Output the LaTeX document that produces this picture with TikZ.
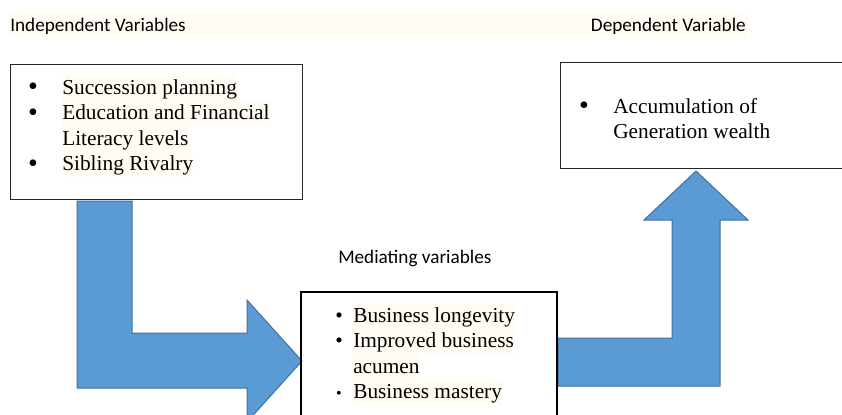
\documentclass[tikz,border=0pt]{standalone}
\usepackage{fontspec}
\setmainfont{Liberation Serif}
\newfontfamily\headfont{Carlito}
\usetikzlibrary{fit}
\definecolor{cream}{RGB}{255,252,244}
\definecolor{arrowblue}{RGB}{91,155,213}
\definecolor{arrowedge}{RGB}{65,113,156}

\begin{document}
\begin{tikzpicture}[
        x=0.75pt, y=-0.75pt,
        heading/.style={font=\headfont\fontsize{14.4}{17}\selectfont, anchor=base west, inner sep=0pt},
        listbox/.style={draw=black!85, line width=0.75pt, inner sep=0pt},
        item/.style={font=\fontsize{16}{19}\selectfont, anchor=base west, inner sep=0pt, text height=14pt, text depth=5pt},
        hlitem/.style={item, fill=cream},
        bullet/.style={font=\fontsize{16}{19}\selectfont, anchor=base, inner sep=0pt},
        bigbullet/.style={bullet, font=\fontsize{21}{19}\selectfont, yshift=-1.2pt},
        arrowblock/.style={fill=arrowblue, draw=arrowedge, line width=0.75pt, line join=miter}
    ]
    \useasboundingbox (0,0) rectangle (842,414);

    % heading band
    \fill[cream] (10,12) rectangle (748,37);
    \node[heading] (indep) at (10,31.5) {Independent Variables};
    \node[heading, anchor=base east] (dep) at (746,31.5) {Dependent Variable};
    \node[heading] (med) at (338,263) {Mediating variables};

    % block arrows
    \draw[arrowblock] (77,201) -- (132,201) -- (132,333) -- (247,333) -- (247,300)
        -- (302,361) -- (247,422) -- (247,388) -- (77,388) -- cycle;
    \draw[arrowblock] (558,386) -- (558,338) -- (672,338) -- (672,220) -- (644,220)
        -- (696,171) -- (748,220) -- (720,220) -- (720,386) -- cycle;

    % boxes
    \node[listbox, fit={(10,64) (302,199)}] (indepbox) {};
    \node[listbox, fit={(560,62) (850,168)}] (depbox) {};
    \node[listbox, line width=1.4pt, draw=black, fit={(301,292) (557,430)}] (medbox) {};

    % independent variables
    \foreach \n/\y in {1/94, 2/119.5, 4/170.5}
        \node[bigbullet] (ib\n) at (33,\y) {\textbullet};
    \foreach \n/\y/\txt in {1/94/Succession planning, 2/119.5/Education and Financial,
                            3/145/Literacy levels, 4/170.5/Sibling Rivalry}
        \node[hlitem] (iv\n) at (62,\y) {\txt};

    % dependent variable
    \node[bigbullet] (db1) at (584,113) {\textbullet};
    \node[item] (dv1) at (613,113) {Accumulation of};
    \node[item] (dv2) at (613,138) {Generation wealth};

    % mediating variables
    \node[bullet] (mb1) at (339,322) {\textbullet};
    \node[bullet] (mb2) at (339,347.5) {\textbullet};
    \node[bullet, font=\fontsize{12}{14}\selectfont] (mb4) at (339,398.5) {\textbullet};
    \foreach \n/\y/\txt in {1/322/Business longevity, 2/347.5/Improved business,
                            3/373/acumen, 4/398.5/Business mastery}
        \node[hlitem] (mv\n) at (353,\y) {\txt};
\end{tikzpicture}
\end{document}
